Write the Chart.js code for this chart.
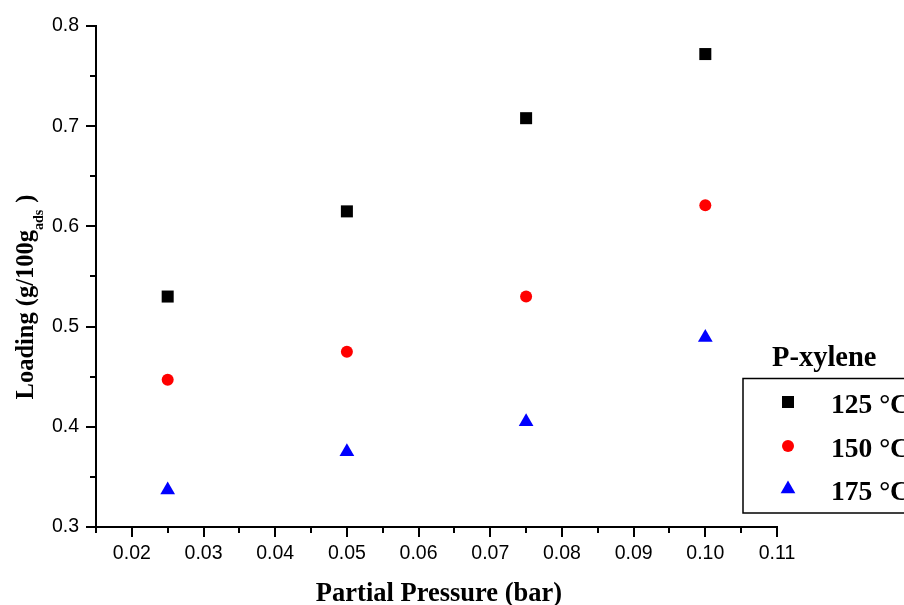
<!DOCTYPE html>
<html>
<head>
<meta charset="utf-8">
<script src="https://cdn.jsdelivr.net/npm/chart.js@4/dist/chart.umd.min.js"></script>
<style>
  html, body { margin: 0; padding: 0; background: #fff; }
  #wrap { width: 904px; height: 605px; }
</style>
</head>
<body>
<div id="wrap"><canvas id="c" width="904" height="605"></canvas></div>
<script>
// Partial pressure (bar) at which loadings were measured
const pressures = [0.025, 0.05, 0.075, 0.10];
// Loading (g/100g_ads) for P-xylene at each temperature
const load125 = [0.530, 0.615, 0.708, 0.772];
const load150 = [0.447, 0.475, 0.530, 0.621];
const load175 = [0.337, 0.375, 0.405, 0.489];
const seriesLabels = ['125 °C', '150 °C', '175 °C'];
const legendTitle = 'P-xylene';
const xTitle = 'Partial Pressure (bar)';
const yTitleMain = 'Loading (g/100g';
const yTitleSub = 'ads';
const yTitleEnd = ')';

const toPts = ys => pressures.map((x, i) => ({ x: x, y: ys[i] }));

const AREA = { left: 96, right: 777, top: 26, bottom: 527 };
const SERIF = '"Liberation Serif", "Times New Roman", serif';

// Outward major/minor tick marks on the two axes
const tickMarks = {
  id: 'tickMarks',
  afterDraw(chart) {
    const ctx = chart.ctx;
    const xs = chart.scales.x, ys = chart.scales.y;
    ctx.save();
    ctx.strokeStyle = '#000';
    ctx.lineWidth = 2;
    ctx.beginPath();
    for (let i = 3; i <= 22; i++) {
      const v = i * 0.005;
      const px = Math.round(xs.getPixelForValue(v));
      const len = (i % 2 === 0) ? 10 : 6;
      ctx.moveTo(px, ys.bottom);
      ctx.lineTo(px, ys.bottom + len);
    }
    for (let i = 0; i <= 10; i++) {
      const v = 0.3 + i * 0.05;
      const py = Math.round(ys.getPixelForValue(v));
      const len = (i % 2 === 0) ? 10 : 6;
      ctx.moveTo(xs.left, py);
      ctx.lineTo(xs.left - len, py);
    }
    ctx.stroke();
    ctx.restore();
  }
};

// Axis titles (the y title carries a subscript)
const axisTitles = {
  id: 'axisTitles',
  afterDraw(chart) {
    const ctx = chart.ctx;
    ctx.save();
    ctx.fillStyle = '#000';
    ctx.font = 'bold 26.5px ' + SERIF;
    ctx.textAlign = 'center';
    ctx.textBaseline = 'alphabetic';
    ctx.fillText(xTitle, 439, 601);

    ctx.translate(26, 297);
    ctx.rotate(-Math.PI / 2);
    const mainFont = 'bold 24.5px ' + SERIF;
    const subFont = 'bold 14px ' + SERIF;
    ctx.font = mainFont;
    const w1 = ctx.measureText(yTitleMain).width;
    ctx.font = subFont;
    const w2 = ctx.measureText(yTitleSub).width;
    ctx.font = mainFont;
    const gap = 7;
    const w3 = ctx.measureText(yTitleEnd).width + gap;
    const total = w1 + w2 + w3;
    const x0 = -total / 2;
    ctx.textAlign = 'left';
    ctx.font = mainFont;
    ctx.fillText(yTitleMain, x0, 7);
    ctx.font = subFont;
    ctx.fillText(yTitleSub, x0 + w1, 17);
    ctx.font = mainFont;
    ctx.fillText(yTitleEnd, x0 + w1 + w2 + gap, 7);
    ctx.restore();
  }
};

// Legend box with title, using each dataset's own point style
const boxLegend = {
  id: 'boxLegend',
  afterDraw(chart) {
    const ctx = chart.ctx;
    ctx.save();
    ctx.fillStyle = '#000';
    ctx.font = 'bold 28.5px ' + SERIF;
    ctx.textAlign = 'left';
    ctx.textBaseline = 'alphabetic';
    ctx.fillText(legendTitle, 772, 366);

    ctx.strokeStyle = '#000';
    ctx.lineWidth = 1.5;
    ctx.strokeRect(743, 378.5, 200, 134.5);

    const markY = [402, 446, 489];
    const textY = [413, 457, 500];
    chart.data.datasets.forEach((ds, i) => {
      ctx.fillStyle = ds.backgroundColor;
      ctx.strokeStyle = ds.borderColor;
      Chart.helpers.drawPoint(ctx, {
        pointStyle: ds.pointStyle,
        radius: ds.pointRadius,
        borderWidth: 0
      }, 788, markY[i]);
      ctx.fillStyle = '#000';
      ctx.font = 'bold 27.5px ' + SERIF;
      ctx.fillText(seriesLabels[i], 831, textY[i]);
    });
    ctx.restore();
  }
};

new Chart(document.getElementById('c'), {
  type: 'scatter',
  data: {
    datasets: [
      { label: seriesLabels[0], data: toPts(load125), pointStyle: 'rect', pointRadius: 8.5,
        backgroundColor: '#000000', borderColor: '#000000', borderWidth: 0 },
      { label: seriesLabels[1], data: toPts(load150), pointStyle: 'circle', pointRadius: 6,
        backgroundColor: '#ff0000', borderColor: '#ff0000', borderWidth: 0 },
      { label: seriesLabels[2], data: toPts(load175), pointStyle: 'triangle', pointRadius: 8.5,
        backgroundColor: '#0000ff', borderColor: '#0000ff', borderWidth: 0 }
    ]
  },
  options: {
    responsive: false,
    animation: false,
    layout: { padding: { left: 0, right: 904 - AREA.right, top: AREA.top, bottom: 0 } },
    plugins: { legend: { display: false }, tooltip: { enabled: false } },
    scales: {
      x: {
        type: 'linear',
        min: 0.015, max: 0.11,
        afterFit(s) { s.height = 605 - AREA.bottom; },
        afterBuildTicks(s) {
          const t = [];
          for (let i = 2; i <= 11; i++) t.push({ value: i / 100 });
          s.ticks = t;
        },
        grid: { display: false, drawTicks: false },
        border: { display: true, color: '#000', width: 2 },
        ticks: {
          color: '#000',
          padding: 15,
          font: { family: '"Liberation Sans", Arial, sans-serif', size: 19.5 },
          callback: v => v.toFixed(2)
        }
      },
      y: {
        type: 'linear',
        min: 0.3, max: 0.8,
        afterFit(s) { s.width = AREA.left; },
        afterBuildTicks(s) {
          const t = [];
          for (let i = 3; i <= 8; i++) t.push({ value: i / 10 });
          s.ticks = t;
        },
        grid: { display: false, drawTicks: false },
        border: { display: true, color: '#000', width: 2 },
        ticks: {
          color: '#000',
          padding: 17,
          font: { family: '"Liberation Sans", Arial, sans-serif', size: 19.5, lineHeight: 0.8 },
          callback: v => v.toFixed(1)
        }
      }
    }
  },
  plugins: [tickMarks, axisTitles, boxLegend]
});
</script>
</body>
</html>
